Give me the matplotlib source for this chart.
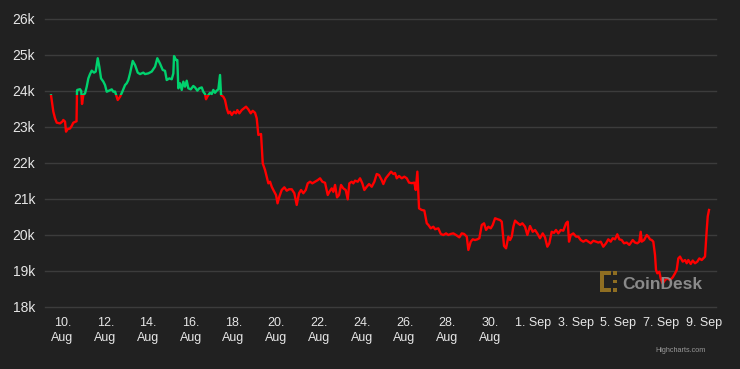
import numpy as np
import pandas as pd
import matplotlib as mpl
mpl.use('Agg')
import matplotlib.pyplot as plt
import matplotlib.dates as mdates
from matplotlib.patches import Rectangle

# BTC price, days counted from 10 Aug 2022 00:00
START = pd.Timestamp('2022-08-10')

day = [-0.538, -0.477, -0.430, -0.351, -0.271, -0.117, -0.009, 0.037, 0.117, 0.164,
       0.225, 0.351, 0.430, 0.505, 0.617, 0.655, 0.678, 0.692, 0.819, 0.875,
       0.912, 0.973, 1.053, 1.132, 1.207, 1.286, 1.366, 1.474, 1.553, 1.647,
       1.721, 1.801, 1.909, 1.988, 2.068, 2.175, 2.302, 2.376, 2.456, 2.582,
       2.690, 2.797, 2.924, 3.003, 3.078, 3.158, 3.284, 3.392, 3.518, 3.626,
       3.780, 3.859, 4.014, 4.173, 4.327, 4.435, 4.561, 4.687, 4.795, 4.874,
       4.996, 5.108, 5.184, 5.216, 5.310, 5.370, 5.417, 5.497, 5.576, 5.651,
       5.730, 5.810, 5.885, 5.997, 6.119, 6.198, 6.306, 6.400, 6.512, 6.586,
       6.666, 6.713, 6.792, 6.900, 6.979, 7.054, 7.134, 7.213, 7.289, 7.368,
       7.415, 7.523, 7.602, 7.682, 7.757, 7.836, 7.916, 8.023, 8.117, 8.178,
       8.271, 8.383, 8.491, 8.584, 8.692, 8.804, 8.898, 9.006, 9.085, 9.160,
       9.286, 9.366, 9.474, 9.553, 9.628, 9.708, 9.787, 9.862, 9.988, 10.058,
       10.142, 10.254, 10.376, 10.488, 10.596, 10.722, 10.844, 10.956, 11.064, 11.158,
       11.265, 11.378, 11.471, 11.579, 11.686, 11.813, 11.939, 12.047, 12.154, 12.281,
       12.407, 12.482, 12.594, 12.669, 12.749, 12.842, 12.936, 13.029, 13.136, 13.248,
       13.342, 13.417, 13.529, 13.604, 13.684, 13.810, 13.918, 14.025, 14.119, 14.231,
       14.339, 14.465, 14.587, 14.699, 14.807, 14.933, 15.008, 15.120, 15.242, 15.368,
       15.476, 15.556, 15.635, 15.743, 15.869, 15.991, 16.103, 16.210, 16.337, 16.458,
       16.524, 16.599, 16.678, 16.805, 16.926, 17.039, 17.114, 17.226, 17.347, 17.427,
       17.581, 17.694, 17.815, 17.942, 18.049, 18.161, 18.283, 18.409, 18.564, 18.675,
       18.784, 18.910, 18.985, 19.097, 19.191, 19.298, 19.406, 19.499, 19.612, 19.719,
       19.813, 19.920, 20.032, 20.126, 20.234, 20.341, 20.468, 20.547, 20.655, 20.749,
       20.856, 20.936, 21.015, 21.090, 21.170, 21.277, 21.404, 21.511, 21.637, 21.745,
       21.870, 21.996, 22.104, 22.211, 22.337, 22.463, 22.571, 22.679, 22.772, 22.885,
       22.992, 23.086, 23.193, 23.306, 23.427, 23.554, 23.633, 23.694, 23.773, 23.895,
       24.021, 24.129, 24.241, 24.363, 24.489, 24.597, 24.709, 24.831, 24.957, 25.065,
       25.177, 25.298, 25.425, 25.532, 25.645, 25.738, 25.846, 25.953, 26.047, 26.159,
       26.267, 26.393, 26.515, 26.674, 26.782, 26.889, 26.983, 27.048, 27.095, 27.203,
       27.329, 27.404, 27.483, 27.563, 27.637, 27.717, 27.764, 27.824, 27.918, 27.983,
       28.077, 28.185, 28.292, 28.419, 28.545, 28.653, 28.732, 28.807, 28.887, 29.013,
       29.121, 29.200, 29.275, 29.387, 29.481, 29.589, 29.696, 29.790, 29.902, 29.977,
       30.056, 30.136, 30.183, 30.243]

price = [23880, 23611, 23425, 23240, 23120, 23100, 23150, 23195, 23150, 22870,
         22935, 22960, 23030, 23120, 23150, 23160, 24010, 24030, 24050, 24000,
         23640, 23890, 23935, 24120, 24350, 24470, 24565, 24510, 24540, 24910,
         24675, 24350, 24260, 24165, 23980, 24010, 24045, 23980, 23985, 23750,
         23840, 23980, 24165, 24215, 24305, 24490, 24835, 24720, 24510, 24470,
         24510, 24470, 24490, 24540, 24675, 24910, 24760, 24585, 24560, 24305,
         24350, 24325, 24490, 24970, 24860, 24860, 24075, 24215, 24030, 24260,
         24120, 24285, 24075, 24045, 24140, 24100, 24010, 24075, 24100, 23980,
         23915, 23770, 23860, 23950, 23915, 24030, 23950, 24010, 24045, 24445,
         23890, 23840, 23750, 23520, 23380, 23425, 23335, 23425, 23380, 23470,
         23380, 23470, 23520, 23565, 23490, 23380, 23450, 23395, 23240, 22780,
         22805, 21990, 21805, 21620, 21435, 21480, 21340, 21250, 21110, 20880,
         21065, 21250, 21325, 21230, 21270, 21270, 21160, 20835, 21160, 21250,
         21160, 21250, 21435, 21480, 21435, 21480, 21525, 21575, 21480, 21450,
         21110, 21200, 21295, 21200, 21390, 21045, 21110, 21390, 21295, 21250,
         20990, 21435, 21480, 21435, 21510, 21480, 21575, 21435, 21250, 21340,
         21415, 21340, 21480, 21695, 21665, 21525, 21415, 21575, 21665, 21760,
         21695, 21720, 21575, 21640, 21575, 21620, 21575, 21455, 21440, 21455,
         21250, 21760, 20740, 20695, 20680, 20325, 20280, 20185, 20230, 20160,
         20185, 20030, 20000, 20045, 20000, 20030, 20045, 20000, 19935, 20045,
         20030, 19955, 19585, 19815, 19880, 19860, 19880, 19910, 20280, 20325,
         20140, 20230, 20185, 20280, 20465, 20440, 20415, 20370, 19695, 19630,
         19955, 19860, 19955, 20230, 20400, 20340, 20280, 20325, 20230, 20000,
         20250, 20090, 20140, 20045, 19910, 20045, 19935, 19675, 19770, 20090,
         20060, 20140, 20045, 20140, 20120, 20325, 20370, 19815, 20000, 20045,
         19955, 19955, 19860, 19815, 19860, 19815, 19770, 19840, 19815, 19790,
         19815, 19675, 19770, 19880, 19815, 19910, 19880, 20020, 19880, 19860,
         19770, 19790, 19725, 19860, 19790, 19770, 19815, 20090, 19815, 19860,
         20000, 19955, 19880, 19860, 19815, 19445, 19030, 18935, 18980, 18795,
         18655, 18750, 18795, 18750, 18825, 18935, 19030, 19350, 19400, 19260,
         19305, 19215, 19305, 19195, 19290, 19215, 19260, 19350, 19305, 19350,
         19400, 20140, 20515, 20695]

assert len(day) == len(price)

zone_threshold = 23900   # above -> green, below -> red

tick_dates = ['2022-08-10', '2022-08-12', '2022-08-14', '2022-08-16', '2022-08-18',
              '2022-08-20', '2022-08-22', '2022-08-24', '2022-08-26', '2022-08-28',
              '2022-08-30', '2022-09-01', '2022-09-03', '2022-09-05', '2022-09-07',
              '2022-09-09']
y_ticks = [18000, 19000, 20000, 21000, 22000, 23000, 24000, 25000, 26000]

BG = '#212121'
GRID = '#3c3c3c'
TXT = '#e6e6e6'
GREEN = '#00d26e'
RED = '#ff0000'

plt.rcParams['font.family'] = ['Liberation Sans', 'DejaVu Sans']

t = START + pd.to_timedelta(day, unit='D')
x_min = START + pd.Timedelta(days=-0.82)
x_max = START + pd.Timedelta(days=30.57)

fig = plt.figure(figsize=(7.4, 3.69), dpi=100, facecolor=BG)
ax = fig.add_axes([45 / 740, 1 - 307 / 369, (716 - 45) / 740, (307 - 19) / 369])
ax.set_facecolor(BG)

ax.set_xlim(x_min, x_max)
ax.set_ylim(y_ticks[0], y_ticks[-1])

xn0 = mdates.date2num(x_min) - 5
xn1 = mdates.date2num(x_max) + 5
for color, y0, y1 in ((GREEN, zone_threshold, 40000), (RED, 0, zone_threshold)):
    ln, = ax.plot(t, price, color=color, lw=1.7, solid_joinstyle='round', zorder=3)
    clip = Rectangle((xn0, y0), xn1 - xn0, y1 - y0, transform=ax.transData)
    ln.set_clip_path(clip)

# axes styling
for s in ax.spines.values():
    s.set_visible(False)
ax.set_yticks(y_ticks)
ax.set_yticklabels(['{}k'.format(v // 1000) for v in y_ticks])
ax.grid(axis='y', color=GRID, lw=1)
ax.set_axisbelow(True)
for gl in ax.get_ygridlines():
    gl.set_clip_on(False)

ticks = pd.to_datetime(tick_dates)
labels = []
for d in ticks:
    if d.month == 8:
        labels.append('{}.\n{}'.format(d.day, d.strftime('%b')))
    else:
        labels.append('{}. {}'.format(d.day, d.strftime('%b')))
ax.set_xticks(ticks)
ax.set_xticklabels(labels, va='top')
for lbl in ax.get_xticklabels():
    lbl.set_linespacing(1.4)

ax.tick_params(axis='both', length=0, colors=TXT)
ax.tick_params(axis='y', pad=7, labelsize=10)
ax.tick_params(axis='x', pad=7, labelsize=9)

# watermark
fig.text(622 / 740, 1 - 289 / 369, 'CoinDesk', color='#8a8a8a', fontsize=12.5,
         fontweight='bold', ha='left', va='baseline', zorder=5)
lax = fig.add_axes([600 / 740, 1 - 292 / 369, 17 / 740, 21 / 369])
lax.set_xlim(0, 1)
lax.set_ylim(0, 1)
lax.axis('off')
gold = '#8f6e22'
for (x0, y0, w, h) in [(0.0, 0.0, 0.22, 1.0), (0.0, 0.82, 0.62, 0.18), (0.0, 0.0, 0.62, 0.18),
                       (0.78, 0.82, 0.22, 0.18), (0.78, 0.0, 0.22, 0.18), (0.78, 0.42, 0.2, 0.16)]:
    lax.add_patch(Rectangle((x0, y0), w, h, color=gold, lw=0))

fig.text(706 / 740, 1 - 352 / 369, 'Highcharts.com', color='#999999', fontsize=5.2,
         ha='right', va='baseline')

plt.savefig('out.png', dpi=100, facecolor=BG)
